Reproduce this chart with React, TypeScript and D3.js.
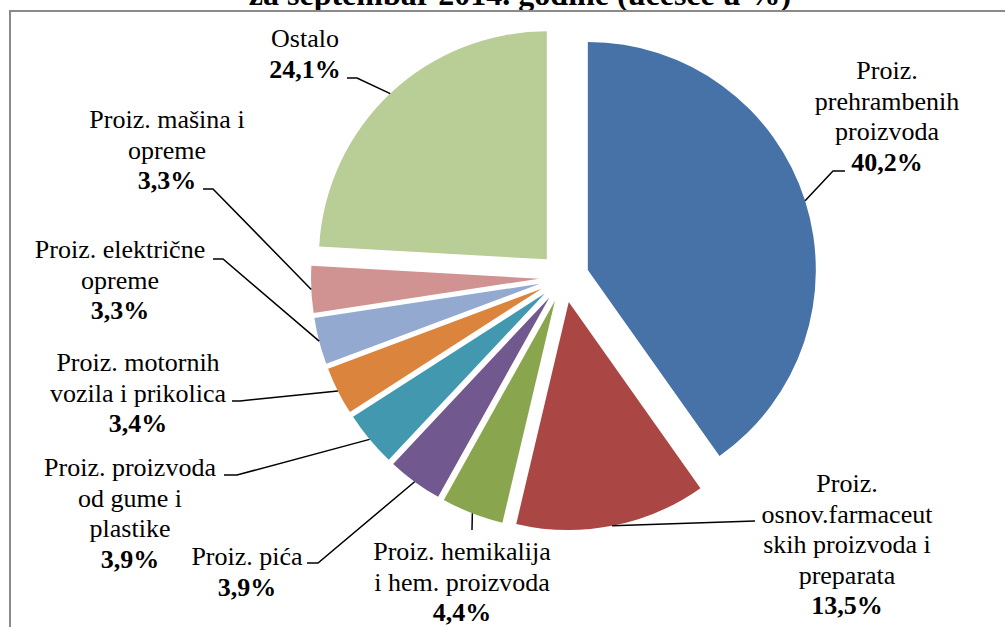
import React from "react";
import * as d3 from "d3";

const categories: string[][] = [
  ["Proiz.", "prehrambenih", "proizvoda"],
  ["Proiz.", "osnov.farmaceut", "skih proizvoda i", "preparata"],
  ["Proiz. hemikalija", "i hem. proizvoda"],
  ["Proiz. pića"],
  ["Proiz. proizvoda", "od gume i", "plastike"],
  ["Proiz. motornih", "vozila i prikolica"],
  ["Proiz. električne", "opreme"],
  ["Proiz. mašina i", "opreme"],
  ["Ostalo"],
];
const values: number[] = [40.2, 13.5, 4.4, 3.9, 3.9, 3.4, 3.3, 3.3, 24.1];
const colors: string[] = [
  "#4672A8",
  "#AA4744",
  "#89A54E",
  "#71588F",
  "#4198AF",
  "#DB843D",
  "#93A9CF",
  "#D19392",
  "#B9CD96",
];
const titleText = "za septembar 2014. godine (učešće u %)";

// label layout: center x, first baseline y, leader elbow and end
const labelLayout = [
  { x: 887, y: 79, elbow: [833, 171], end: [845, 171] },
  { x: 847, y: 492, elbow: [755, 521], end: [755, 521] },
  { x: 462, y: 560, elbow: [472, 530], end: [472, 530] },
  { x: 247, y: 565, elbow: [318, 563], end: [307, 563] },
  { x: 130, y: 476, elbow: [237, 475], end: [224, 475] },
  { x: 138, y: 371, elbow: [240, 401], end: [232, 401] },
  { x: 120, y: 258, elbow: [223, 259], end: [213, 259] },
  { x: 167, y: 128, elbow: [213, 189], end: [203, 189] },
  { x: 305, y: 47, elbow: [357, 78], end: [347, 78] },
];

const W = 1005;
const H = 627;
const CX = 564;
const CY = 277.5;
const R = 228;
const EXPLODE = 25;
const LINE_H = 30.5;
const FONT = "Liberation Serif, Tinos, Times New Roman, DejaVu Serif, serif";

export default function App() {
  const pie = d3
    .pie<number>()
    .sort(null)
    .startAngle(0)
    .endAngle(2 * Math.PI)
    .value((d) => d);
  const arcs = pie(values);
  const arcGen = d3.arc<d3.PieArcDatum<number>>().innerRadius(0).outerRadius(R);
  const fmt = (v: number) => v.toFixed(1).replace(".", ",") + "%";

  return (
    <svg
      width={W}
      height={H}
      style={{ position: "fixed", left: 0, top: 0, background: "#fff", fontFamily: FONT }}
    >
      <rect x={0} y={0} width={W} height={H} fill="#fff" />
      <text
        x={520}
        y={5}
        textAnchor="middle"
        style={{ fontFamily: FONT, fontWeight: "bold", fontSize: "32px" }}
        fill="#000"
      >
        {titleText}
      </text>
      <rect
        x={10}
        y={11}
        width={1200}
        height={800}
        fill="none"
        stroke="#8a8a8a"
        strokeWidth={2}
      />
      {arcs.map((a, i) => {
        const mid = (a.startAngle + a.endAngle) / 2;
        const ox = CX + EXPLODE * Math.sin(mid);
        const oy = CY - EXPLODE * Math.cos(mid);
        return (
          <path
            key={"s" + i}
            d={arcGen(a) || ""}
            transform={`translate(${ox},${oy})`}
            fill={colors[i]}
          />
        );
      })}
      {arcs.map((a, i) => {
        const mid = (a.startAngle + a.endAngle) / 2;
        const sx = CX + (EXPLODE + R) * Math.sin(mid);
        const sy = CY - (EXPLODE + R) * Math.cos(mid);
        const L = labelLayout[i];
        return (
          <polyline
            key={"l" + i}
            points={`${sx},${sy} ${L.elbow[0]},${L.elbow[1]} ${L.end[0]},${L.end[1]}`}
            fill="none"
            stroke="#000"
            strokeWidth={1.5}
          />
        );
      })}
      {arcs.map((a, i) => {
        const L = labelLayout[i];
        const lines = categories[i];
        return (
          <g key={"t" + i} style={{ fontFamily: FONT, fontSize: "26px" }} fill="#000">
            {lines.map((ln, j) => (
              <text key={j} x={L.x} y={L.y + j * LINE_H} textAnchor="middle">
                {ln}
              </text>
            ))}
            <text
              x={L.x}
              y={L.y + lines.length * LINE_H}
              textAnchor="middle"
              style={{ fontWeight: "bold" }}
            >
              {fmt(values[i])}
            </text>
          </g>
        );
      })}
    </svg>
  );
}
